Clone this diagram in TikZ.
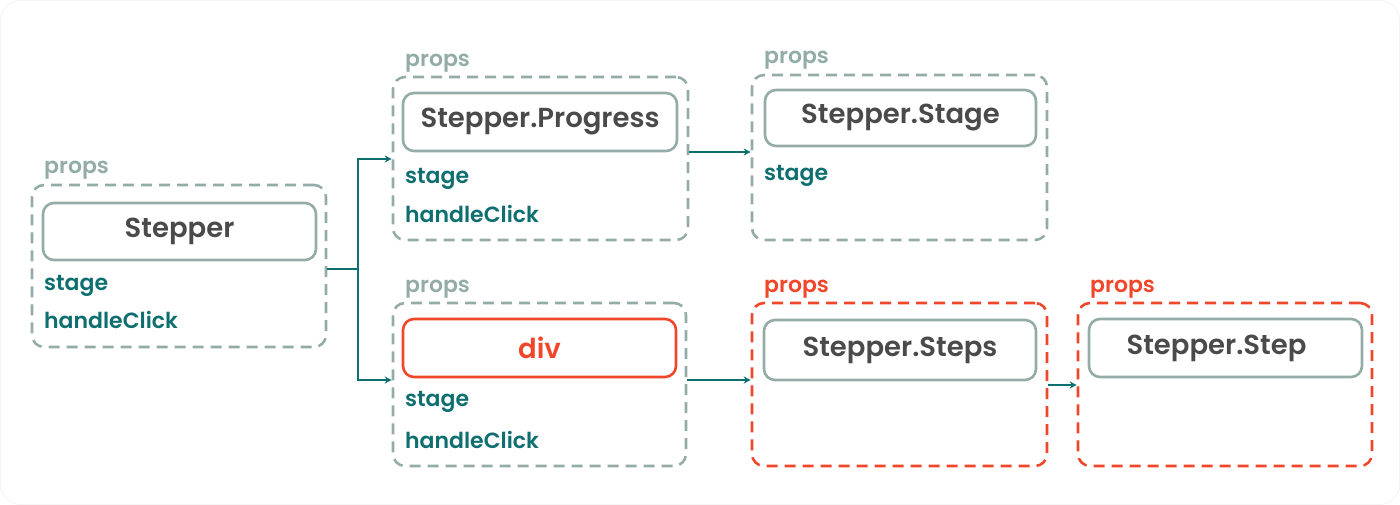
\documentclass[tikz,border=0pt]{standalone}
\usepackage{fontspec}
\setmainfont{Poppins}[UprightFont=* SemiBold]
\usetikzlibrary{arrows.meta}
\definecolor{dashg}{HTML}{93ACA8}
\definecolor{tealt}{HTML}{0E6E70}
\definecolor{redc}{HTML}{F0462A}
\definecolor{darkt}{HTML}{4A4A4A}
\begin{document}
\begin{tikzpicture}[x=1pt,y=-1pt,
  outerg/.style={draw=dashg, line width=2.6pt, dash pattern=on 11pt off 7pt, rounded corners=12pt, inner sep=0pt},
  outerr/.style={outerg, draw=redc},
  innerbox/.style={draw=dashg, line width=2.6pt, rounded corners=11pt, inner sep=0pt, font=\fontsize{27.5}{30}\selectfont, text=darkt},
  propg/.style={anchor=south west, inner sep=0pt, font=\fontsize{22}{25}\selectfont, text=dashg},
  propr/.style={propg, text=redc},
  field/.style={anchor=west, inner sep=0pt, font=\fontsize{22}{25}\selectfont, text=tealt},
  conn/.style={draw=tealt, line width=1.8pt},
  arr/.style={conn, -{Stealth[length=7pt,width=7pt]}}
]
\useasboundingbox (0,0) rectangle (1400,505);
\draw[draw=black!4, line width=1pt, rounded corners=20pt] (0.5,0.5) rectangle (1399.5,504.5);

% Stepper
\node[outerg, minimum width=294pt, minimum height=162pt] (o1) at (179,266) {};
\node[innerbox, minimum width=273pt, minimum height=57pt] (i1) at (179.5,231.5) {Stepper};
\node[propg] (p1) at (44,180) {props};
\node[field] (s1) at (44,286) {stage};
\node[field] (h1) at (44,320) {handleClick};

% Progress
\node[outerg, minimum width=295pt, minimum height=163pt] (o2) at (540.5,158.5) {};
\node[innerbox, minimum width=274pt, minimum height=58pt] (i2) at (540,122) {Stepper.Progress};
\node[propg] (p2) at (405,73) {props};
\node[field] (s2) at (405,179) {stage};
\node[field] (h2) at (405,214) {handleClick};

% Stage
\node[outerg, minimum width=295pt, minimum height=165pt] (o3) at (899.5,157.5) {};
\node[innerbox, minimum width=271pt, minimum height=56pt] (i3) at (900.5,118) {Stepper.Stage};
\node[propg] (p3) at (764,70) {props};
\node[field] (s3) at (764,176) {stage};

% div
\node[outerg, minimum width=293pt, minimum height=163pt] (o4) at (539.5,384.5) {};
\node[innerbox, draw=redc, text=redc, minimum width=273pt, minimum height=58pt] (i4) at (539.5,348) {div};
\node[propg] (p4) at (405,299) {props};
\node[field] (s4) at (405,402) {stage};
\node[field] (h4) at (405,440) {handleClick};

% Steps
\node[outerr, minimum width=295pt, minimum height=163pt] (o5) at (899.5,384.5) {};
\node[innerbox, minimum width=272pt, minimum height=60pt] (i5) at (900,350) {Stepper.Steps};
\node[propr] (p5) at (764,299) {props};

% Step
\node[outerr, minimum width=294pt, minimum height=163pt] (o6) at (1225,384.5) {};
\node[innerbox, minimum width=273pt, minimum height=58pt] (i6) at (1225.5,348) {Stepper.Step\kern18pt};
\node[propr] (p6) at (1090,299) {props};

% connectors
\coordinate (j) at (358,269);
\draw[conn] (o1.east |- j) -- (j);
\draw[arr] (j) |- (o2.west |- 0,159);
\draw[arr] (j) |- (o4.west |- 0,380);
\draw[arr] (o2.east |- 0,152) -- (o3.west |- 0,152);
\draw[arr] (o4.east |- 0,380) -- (o5.west |- 0,380);
\draw[arr] (o5.east |- 0,385) -- (o6.west |- 0,385);
\end{tikzpicture}
\end{document}
